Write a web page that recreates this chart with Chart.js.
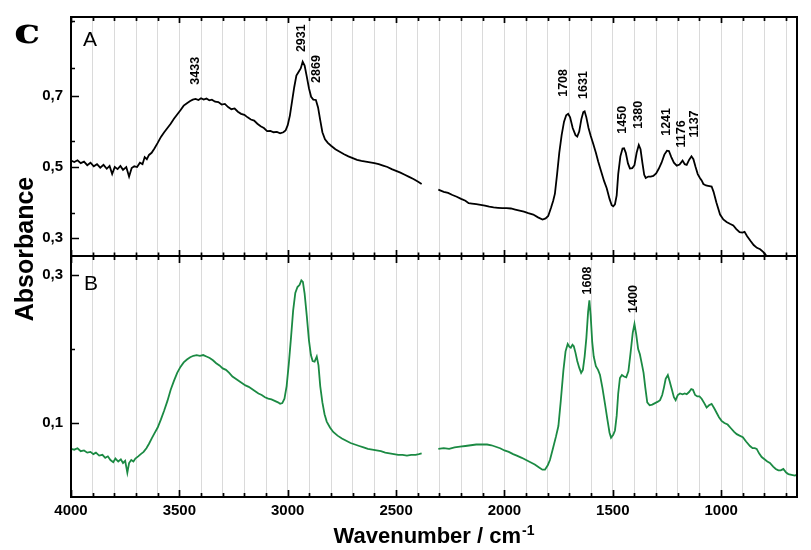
<!DOCTYPE html>
<html><head><meta charset="utf-8">
<script src="https://cdn.jsdelivr.net/npm/chart.js@4.4.1/dist/chart.umd.min.js"></script>
<style>html,body{margin:0;padding:0;background:#fff;}canvas{display:block}</style>
</head><body>
<canvas id="chart" width="811" height="550"></canvas>
<script>
// ---- Spectrum A (black) ----
const wavenumberA = [4000,3985,3970,3955,3940,3925,3910,3895,3880,3865,3850,3835,3822,3810,3798,3785,3772,3760,3745,3732,3720,3708,3695,3682,3670,3660,3650,3640,3628,3615,3600,3585,3570,3555,3540,3525,3510,3495,3480,3465,3450,3438,3425,3412,3400,3388,3375,3362,3350,3335,3320,3305,3290,3275,3260,3245,3230,3215,3200,3185,3170,3155,3140,3125,3110,3095,3080,3065,3050,3035,3020,3010,3000,2990,2980,2970,2960,2950,2940,2931,2922,2912,2902,2892,2882,2870,2860,2850,2840,2828,2815,2800,2780,2760,2740,2720,2700,2680,2660,2640,2620,2600,2580,2560,2540,2520,2500,2480,2460,2440,2420,2400,2382,2340,2305,2280,2260,2240,2220,2200,2180,2165,2150,2130,2110,2090,2070,2050,2030,2010,1990,1970,1950,1930,1910,1890,1867,1845,1824,1810,1798,1785,1775,1767,1757,1747,1736,1725,1715,1706,1697,1685,1672,1664,1655,1645,1636,1630,1622,1612,1602,1590,1578,1567,1555,1540,1528,1515,1505,1498,1490,1482,1475,1465,1455,1448,1440,1430,1421,1410,1400,1390,1380,1372,1363,1355,1348,1336,1325,1313,1300,1288,1275,1262,1250,1241,1230,1218,1205,1192,1178,1168,1159,1148,1137,1128,1118,1108,1098,1090,1082,1070,1060,1044,1035,1022,1005,990,975,960,944,930,915,902,892,880,865,850,835,820,805,792];
const absorbanceA = [0.518,0.514,0.519,0.511,0.515,0.505,0.512,0.502,0.508,0.498,0.506,0.495,0.503,0.480,0.500,0.494,0.503,0.492,0.500,0.473,0.497,0.502,0.500,0.512,0.508,0.528,0.522,0.534,0.540,0.552,0.568,0.585,0.598,0.610,0.622,0.636,0.648,0.660,0.673,0.680,0.686,0.690,0.692,0.689,0.694,0.690,0.693,0.688,0.690,0.684,0.683,0.676,0.678,0.669,0.663,0.665,0.656,0.650,0.647,0.640,0.634,0.631,0.622,0.615,0.610,0.601,0.602,0.598,0.599,0.595,0.598,0.603,0.618,0.645,0.685,0.725,0.758,0.768,0.778,0.797,0.786,0.755,0.722,0.698,0.690,0.689,0.668,0.632,0.598,0.578,0.568,0.560,0.550,0.543,0.536,0.530,0.525,0.520,0.517,0.515,0.513,0.511,0.508,0.504,0.500,0.494,0.489,0.484,0.478,0.472,0.466,0.459,0.452,null,0.436,0.430,0.427,0.421,0.416,0.410,0.405,0.398,0.397,0.395,0.393,0.391,0.388,0.386,0.385,0.384,0.384,0.383,0.380,0.377,0.374,0.370,0.366,0.358,0.352,0.355,0.362,0.385,0.405,0.425,0.480,0.540,0.590,0.628,0.646,0.650,0.640,0.610,0.590,0.586,0.600,0.635,0.655,0.657,0.640,0.610,0.588,0.565,0.540,0.515,0.490,0.460,0.440,0.410,0.392,0.389,0.395,0.420,0.480,0.530,0.552,0.553,0.540,0.510,0.496,0.497,0.505,0.540,0.562,0.550,0.510,0.478,0.469,0.473,0.473,0.475,0.482,0.495,0.512,0.535,0.546,0.545,0.528,0.512,0.504,0.507,0.518,0.508,0.506,0.520,0.530,0.522,0.500,0.480,0.469,0.462,0.452,0.448,0.447,0.445,0.430,0.400,0.366,0.352,0.345,0.340,0.335,0.325,0.316,0.315,0.317,0.305,0.292,0.280,0.272,0.268,0.260,0.250];

// ---- Spectrum B (green) ----
const wavenumberB = [4000,3985,3970,3955,3940,3925,3910,3897,3885,3870,3855,3842,3830,3818,3805,3795,3782,3770,3760,3750,3740,3732,3722,3712,3703,3690,3678,3665,3652,3640,3628,3615,3600,3585,3570,3555,3540,3525,3510,3495,3480,3465,3450,3435,3420,3405,3390,3375,3360,3345,3330,3315,3300,3285,3270,3255,3240,3225,3210,3195,3180,3165,3150,3135,3120,3105,3090,3075,3060,3045,3035,3025,3015,3005,2995,2985,2975,2965,2955,2945,2937,2930,2922,2912,2902,2893,2885,2876,2866,2858,2850,2840,2830,2820,2805,2790,2770,2750,2730,2710,2690,2670,2650,2630,2610,2590,2570,2550,2530,2510,2490,2470,2450,2430,2410,2395,2382,2340,2305,2280,2255,2230,2205,2180,2155,2130,2105,2080,2060,2040,2020,2000,1980,1960,1943,1920,1900,1880,1860,1840,1825,1813,1800,1790,1775,1762,1751,1740,1728,1718,1708,1700,1694,1686,1680,1672,1664,1655,1646,1638,1630,1622,1614,1608,1602,1595,1588,1578,1568,1559,1548,1536,1525,1515,1508,1498,1490,1482,1475,1467,1458,1448,1438,1428,1418,1408,1400,1392,1383,1375,1366,1358,1350,1341,1330,1318,1305,1292,1282,1272,1264,1256,1246,1238,1228,1218,1210,1200,1190,1178,1168,1159,1148,1138,1130,1120,1110,1100,1090,1078,1067,1056,1044,1032,1021,1010,998,985,970,955,940,928,915,900,885,867,855,845,836,825,813,800,787,775,760,748,736,725,713,700,690,675,660,652];
const absorbanceB = [0.065,0.064,0.066,0.062,0.063,0.060,0.061,0.058,0.060,0.056,0.057,0.053,0.055,0.050,0.047,0.052,0.048,0.051,0.046,0.049,0.033,0.046,0.050,0.048,0.052,0.055,0.058,0.061,0.066,0.072,0.079,0.086,0.094,0.105,0.117,0.130,0.145,0.157,0.168,0.176,0.182,0.186,0.189,0.191,0.192,0.191,0.192,0.190,0.188,0.185,0.181,0.178,0.174,0.172,0.168,0.163,0.160,0.157,0.154,0.151,0.149,0.146,0.143,0.140,0.138,0.135,0.133,0.132,0.130,0.128,0.126,0.127,0.133,0.150,0.180,0.215,0.252,0.276,0.284,0.287,0.293,0.291,0.275,0.245,0.212,0.192,0.184,0.183,0.190,0.178,0.150,0.128,0.112,0.102,0.094,0.088,0.083,0.079,0.076,0.073,0.071,0.069,0.067,0.065,0.064,0.063,0.062,0.060,0.059,0.058,0.057,0.057,0.056,0.057,0.057,0.058,0.059,null,0.065,0.066,0.065,0.067,0.068,0.069,0.070,0.071,0.071,0.071,0.070,0.068,0.066,0.063,0.061,0.058,0.056,0.053,0.050,0.047,0.044,0.040,0.037,0.037,0.043,0.050,0.067,0.082,0.096,0.130,0.171,0.197,0.207,0.203,0.202,0.206,0.204,0.195,0.184,0.175,0.168,0.172,0.190,0.215,0.250,0.266,0.245,0.210,0.190,0.177,0.172,0.165,0.148,0.126,0.105,0.087,0.080,0.084,0.090,0.110,0.140,0.161,0.165,0.163,0.162,0.170,0.195,0.222,0.234,0.220,0.200,0.193,0.180,0.168,0.148,0.128,0.124,0.125,0.127,0.129,0.131,0.138,0.148,0.160,0.165,0.157,0.146,0.135,0.131,0.138,0.140,0.139,0.140,0.139,0.142,0.146,0.145,0.138,0.136,0.136,0.133,0.127,0.121,0.124,0.126,0.120,0.114,0.108,0.103,0.100,0.098,0.093,0.088,0.085,0.083,0.081,0.075,0.069,0.066,0.066,0.065,0.059,0.054,0.051,0.048,0.046,0.041,0.038,0.036,0.036,0.038,0.033,0.031,0.030,0.029,0.030];

// ---- Ticks ----
const xMajorTicks = [4000,3500,3000,2500,2000,1500,1000];
const xMinorTicks = [3900,3800,3700,3600,3400,3300,3200,3100,2900,2800,2700,2600,2400,2300,2200,2100,1900,1800,1700,1600,1400,1300,1200,1100,900,800,700];
const yTicksA = [0.3,0.5,0.7];
const yMinorTicksA = [0.369,0.574,0.779,0.912];
const yTicksB = [0.1,0.3];
const yMinorTicksB = [0.2];

// ---- Peak annotations (text, placement wavenumber, placement absorbance) ----
const peakLabelsA = ['3433','2931','2869','1708','1631','1450','1380','1241','1176','1137'];
const peakPosA = [3425,2934,2866,1725,1633,1455,1380,1254,1182,1124];
const peakTextBaseA = [0.732,0.824,0.737,0.698,0.692,0.594,0.608,0.588,0.555,0.583];
const peakLabelsB = ['1608','1400'];
const peakPosB = [1616,1405];
const peakTextBaseB = [0.274,0.249];

const SANS = "'Liberation Sans', Arial, Helvetica, sans-serif";
const toPoints = (xs, ys) => xs.map((x, i) => ({x: x, y: ys[i]}));
const fmt = v => Number(v).toFixed(1).replace('.', ',');

const framePlugin = {
  id: 'frame',
  afterDraw(chart) {
    const {ctx, chartArea: ca, scales} = chart;
    const sx = scales.x, yA = scales.yA, yB = scales.yB;
    const mid = yA.bottom;
    ctx.save();
    ctx.strokeStyle = '#000';
    // ticks
    ctx.lineWidth = 1.7;
    ctx.beginPath();
    const allX = xMajorTicks.concat(xMinorTicks);
    allX.forEach(v => {
      const px = Math.round(sx.getPixelForValue(v)) + 0.5;
      const major = xMajorTicks.includes(v);
      const L = major ? 7 : 4;
      ctx.moveTo(px, ca.bottom); ctx.lineTo(px, ca.bottom - L);
      ctx.moveTo(px, ca.top); ctx.lineTo(px, ca.top + (major ? 6 : 4));
      ctx.moveTo(px, mid - (major ? 6 : 3.5)); ctx.lineTo(px, mid + (major ? 7 : 4));
    });
    const yt = (scale, vals, L) => vals.forEach(v => {
      const py = Math.round(scale.getPixelForValue(v)) + 0.5;
      ctx.moveTo(ca.left, py); ctx.lineTo(ca.left + L, py);
    });
    yt(yA, yTicksA, 8); yt(yA, yMinorTicksA, 4);
    yt(yB, yTicksB, 8); yt(yB, yMinorTicksB, 4);
    ctx.stroke();
    // frame
    ctx.lineWidth = 2;
    ctx.strokeRect(ca.left, ca.top, ca.right - ca.left, ca.bottom - ca.top);
    ctx.beginPath(); ctx.moveTo(ca.left, mid); ctx.lineTo(ca.right, mid); ctx.stroke();

    // peak labels
    ctx.fillStyle = '#000';
    ctx.font = 'bold 12.5px ' + SANS;
    ctx.textAlign = 'left'; ctx.textBaseline = 'middle';
    const lab = (scale, texts, pos, base) => texts.forEach((t, i) => {
      ctx.save();
      ctx.translate(sx.getPixelForValue(pos[i]), scale.getPixelForValue(base[i]));
      ctx.rotate(-Math.PI / 2);
      ctx.fillText(t, 0, 0);
      ctx.restore();
    });
    lab(yA, peakLabelsA, peakPosA, peakTextBaseA);
    lab(yB, peakLabelsB, peakPosB, peakTextBaseB);

    // panel letters
    ctx.textBaseline = 'alphabetic';
    ctx.font = '21px ' + SANS;
    ctx.fillText('A', ca.left + 12, ca.top + 29);
    ctx.fillText('B', ca.left + 13, mid + 34);

    // figure letter "c"
    ctx.save();
    ctx.font = 'bold 36px "DejaVu Serif", "Liberation Serif", serif';
    ctx.translate(14, 43);
    ctx.scale(1.2, 1);
    ctx.fillText('c', 0, 0);
    ctx.restore();

    // y title
    ctx.save();
    ctx.font = 'bold 25px ' + SANS;
    ctx.translate(33, 249);
    ctx.rotate(-Math.PI / 2);
    ctx.textAlign = 'center';
    ctx.fillText('Absorbance', 0, 0);
    ctx.restore();

    // x title with superscript
    ctx.font = 'bold 22px ' + SANS;
    const main = 'Wavenumber / cm';
    const w1 = ctx.measureText(main).width;
    ctx.font = 'bold 14px ' + SANS;
    const sup = '-1';
    const w2 = ctx.measureText(sup).width;
    const cx = (ca.left + ca.right) / 2;
    const start = cx - (w1 + w2 + 1) / 2;
    ctx.textAlign = 'left';
    ctx.font = 'bold 22px ' + SANS;
    ctx.fillText(main, start, 543);
    ctx.font = 'bold 14px ' + SANS;
    ctx.fillText(sup, start + w1 + 1, 535);
    ctx.restore();
  }
};

new Chart(document.getElementById('chart'), {
  type: 'line',
  data: {
    datasets: [
      {label: 'A', data: toPoints(wavenumberA, absorbanceA), xAxisID: 'x', yAxisID: 'yA',
       borderColor: '#000000', borderWidth: 1.8, pointRadius: 0, tension: 0, spanGaps: false, fill: false},
      {label: 'B', data: toPoints(wavenumberB, absorbanceB), xAxisID: 'x', yAxisID: 'yB',
       borderColor: '#1b8a43', borderWidth: 1.8, pointRadius: 0, tension: 0, spanGaps: false, fill: false}
    ]
  },
  options: {
    responsive: false, animation: false, devicePixelRatio: 1,
    layout: {padding: {left: 0, right: 14, top: 15, bottom: 0}},
    plugins: {legend: {display: false}, tooltip: {enabled: false}},
    scales: {
      x: {
        type: 'linear', position: 'bottom', min: 650, max: 4000, reverse: true,
        afterBuildTicks: s => { s.ticks = xMajorTicks.concat(xMinorTicks).sort((a, b) => a - b).map(v => ({value: v})); },
        afterFit: s => { s.height = 53; },
        grid: {color: '#dadada', lineWidth: 1, drawTicks: false},
        border: {display: false},
        ticks: {autoSkip: false, maxRotation: 0, minRotation: 0, padding: 5, color: '#000',
                font: {family: SANS, size: 15, weight: 'bold'},
                callback: v => xMajorTicks.includes(v) ? String(v) : ''}
      },
      yB: {
        type: 'linear', position: 'left', stack: 'panels', stackWeight: 242, min: 0, max: 0.326,
        afterBuildTicks: s => { s.ticks = yTicksB.map(v => ({value: v})); },
        afterFit: s => { s.width = 71; },
        grid: {display: false, drawTicks: false}, border: {display: false},
        ticks: {padding: 8, color: '#000', font: {family: SANS, size: 15, weight: 'bold'}, callback: fmt}
      },
      yA: {
        type: 'linear', position: 'left', stack: 'panels', stackWeight: 240, min: 0.249, max: 0.923,
        afterBuildTicks: s => { s.ticks = yTicksA.map(v => ({value: v})); },
        afterFit: s => { s.width = 71; },
        grid: {display: false, drawTicks: false}, border: {display: false},
        ticks: {padding: 8, color: '#000', font: {family: SANS, size: 15, weight: 'bold'}, callback: fmt}
      }
    }
  },
  plugins: [framePlugin]
});
</script>
</body></html>
